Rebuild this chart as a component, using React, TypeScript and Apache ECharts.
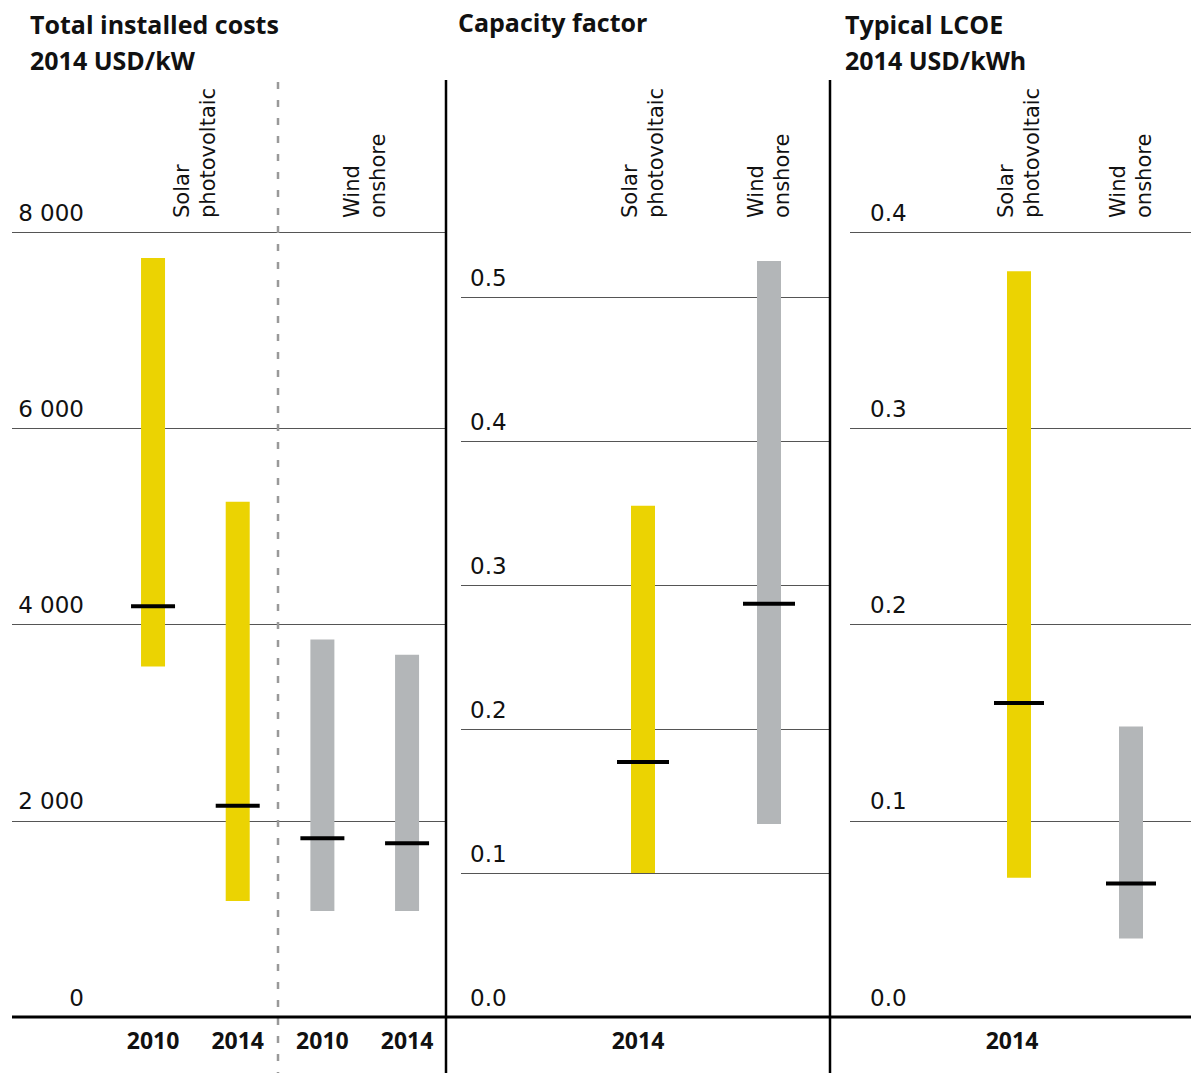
import React, { useEffect, useRef } from "react";
import * as echarts from "echarts";

// ---- Data ----
const costYears = ["2010", "2014", "2010", "2014"];
const costGroups = ["Solar\nphotovoltaic", "Wind\nonshore"];
const costTech = ["solar", "solar", "wind", "wind"];
const costLow = [3571, 1183, 1079, 1079];
const costHigh = [7735, 5250, 3846, 3692];
const costMedian = [4185, 2154, 1822, 1770];
const costTicks = { min: 0, max: 8000, interval: 2000 };

const techLabels = ["Solar\nphotovoltaic", "Wind\nonshore"];
const techKinds = ["solar", "wind"];

const cfLow = [0.1, 0.134];
const cfHigh = [0.355, 0.525];
const cfMedian = [0.177, 0.287];
const cfTicks = { min: 0, max: 0.5, interval: 0.1 };

const lcoeLow = [0.071, 0.04];
const lcoeHigh = [0.38, 0.148];
const lcoeMedian = [0.16, 0.068];
const lcoeTicks = { min: 0, max: 0.4, interval: 0.1 };

const yearLabel = ["2014"];

const COLORS: Record<string, string> = { solar: "#EBD302", wind: "#B3B6B8" };

const TICK_FONT = "DejaVu Sans";
const BOLD_FONT = "Open Sans";

function rows(low: number[], high: number[], med: number[]) {
  return low.map((l, i) => [i, l, high[i], med[i]]);
}

function rangeSeries(
  xIdx: number,
  yIdx: number,
  data: number[][],
  kinds: string[],
  medWidth: number
) {
  return {
    type: "custom",
    xAxisIndex: xIdx,
    yAxisIndex: yIdx,
    clip: false,
    z: 5,
    data,
    renderItem: (params: any, api: any) => {
      const i = api.value(0);
      const lo = api.coord([i, api.value(1)]);
      const hi = api.coord([i, api.value(2)]);
      const md = api.coord([i, api.value(3)]);
      const bw = 24;
      return {
        type: "group",
        children: [
          {
            type: "rect",
            shape: { x: lo[0] - bw / 2, y: hi[1], width: bw, height: lo[1] - hi[1] },
            style: { fill: COLORS[kinds[params.dataIndex]] },
          },
          {
            type: "rect",
            shape: { x: md[0] - medWidth / 2, y: md[1] - 2, width: medWidth, height: 4 },
            style: { fill: "#000" },
          },
        ],
      };
    },
  };
}

const tickLabelStyle = {
  fontFamily: TICK_FONT,
  fontSize: 23,
  color: "#111",
  verticalAlign: "bottom",
  padding: [0, 0, 8, 0],
};

const topLabelStyle = {
  rotate: 90,
  fontFamily: TICK_FONT,
  fontSize: 21,
  lineHeight: 26,
  color: "#111",
  interval: 0,
};

const yearLabelStyle = {
  fontFamily: BOLD_FONT,
  fontWeight: "bold",
  fontSize: 23,
  color: "#111",
  margin: 11,
  interval: 0,
};

export default function App() {
  const ref = useRef<HTMLDivElement>(null);

  useEffect(() => {
    document.body.style.margin = "0";
    if (!ref.current) return;
    const chart = echarts.init(ref.current, undefined, { renderer: "svg" });

    const titleStyle = {
      fontFamily: BOLD_FONT,
      fontWeight: "bold",
      fontSize: 25,
      lineHeight: 36,
      color: "#111",
    };

    const gridBase = { outerBoundsMode: "none", containLabel: false };
    const hiddenLine = { axisLine: { show: false }, axisTick: { show: false } };

    const option: any = {
      animation: false,
      backgroundColor: "#fff",
      title: [
        { text: "Total installed costs\n2014 USD/kW", left: 30, top: 6, padding: 0, textStyle: titleStyle },
        { text: "Capacity factor", left: 458, top: 4, padding: 0, textStyle: titleStyle },
        { text: "Typical LCOE\n2014 USD/kWh", left: 845, top: 6, padding: 0, textStyle: titleStyle },
      ],
      grid: [
        { ...gridBase, left: 12, width: 434, top: 232, height: 785 }, // 0 cost gridlines
        { ...gridBase, left: 110.7, width: 338.7, top: 232, height: 785 }, // 1 cost bars
        { ...gridBase, left: 461, width: 369, top: 297, height: 720 }, // 2 cf gridlines
        { ...gridBase, left: 580, width: 252, top: 297, height: 720 }, // 3 cf bars
        { ...gridBase, left: 850, width: 341, top: 232, height: 785 }, // 4 lcoe gridlines
        { ...gridBase, left: 963, width: 224, top: 232, height: 785 }, // 5 lcoe bars
        { ...gridBase, left: 110.7, width: 338.7, top: 232, height: 785 }, // 6 cost group labels
      ],
      xAxis: [
        { gridIndex: 0, type: "category", data: [""], show: false },
        {
          gridIndex: 1,
          type: "category",
          data: costYears,
          position: "bottom",
          ...hiddenLine,
          axisLabel: yearLabelStyle,
        },
        {
          gridIndex: 6,
          type: "category",
          data: costGroups,
          position: "top",
          ...hiddenLine,
          axisLabel: { ...topLabelStyle, margin: 14 },
        },
        {
          gridIndex: 2,
          type: "category",
          data: yearLabel,
          ...hiddenLine,
          axisLabel: { ...yearLabelStyle, padding: [0, 15, 0, 0] },
        },
        {
          gridIndex: 3,
          type: "category",
          data: techLabels,
          position: "top",
          ...hiddenLine,
          axisLabel: { ...topLabelStyle, margin: 79 },
        },
        {
          gridIndex: 4,
          type: "category",
          data: yearLabel,
          ...hiddenLine,
          axisLabel: { ...yearLabelStyle, padding: [0, 17, 0, 0] },
        },
        {
          gridIndex: 5,
          type: "category",
          data: techLabels,
          position: "top",
          ...hiddenLine,
          axisLabel: { ...topLabelStyle, margin: 14 },
        },
      ],
      yAxis: [
        {
          gridIndex: 0,
          type: "value",
          ...costTicks,
          ...hiddenLine,
          splitLine: { show: true, lineStyle: { color: "#555", width: 1 } },
          axisLabel: {
            ...tickLabelStyle,
            inside: true,
            align: "right",
            margin: 72,
            formatter: (v: number) => (v === 0 ? "0" : `${v / 1000} 000`),
          },
        },
        { gridIndex: 1, type: "value", ...costTicks, show: false, splitLine: { show: false } },
        {
          gridIndex: 2,
          type: "value",
          ...cfTicks,
          ...hiddenLine,
          splitLine: { show: true, lineStyle: { color: "#555", width: 1 } },
          axisLabel: {
            ...tickLabelStyle,
            inside: true,
            align: "left",
            margin: 9,
            formatter: (v: number) => v.toFixed(1),
          },
        },
        { gridIndex: 3, type: "value", ...cfTicks, show: false, splitLine: { show: false } },
        {
          gridIndex: 4,
          type: "value",
          ...lcoeTicks,
          ...hiddenLine,
          splitLine: { show: true, lineStyle: { color: "#555", width: 1 } },
          axisLabel: {
            ...tickLabelStyle,
            inside: true,
            align: "left",
            margin: 20,
            formatter: (v: number) => v.toFixed(1),
          },
        },
        { gridIndex: 5, type: "value", ...lcoeTicks, show: false, splitLine: { show: false } },
        { gridIndex: 6, type: "value", ...costTicks, show: false, splitLine: { show: false } },
      ],
      series: [
        rangeSeries(1, 1, rows(costLow, costHigh, costMedian), costTech, 44),
        rangeSeries(4, 3, rows(cfLow, cfHigh, cfMedian), techKinds, 52),
        rangeSeries(6, 5, rows(lcoeLow, lcoeHigh, lcoeMedian), techKinds, 50),
      ],
      graphic: [
        {
          type: "line",
          shape: { x1: 278, y1: 82, x2: 278, y2: 1073 },
          style: { stroke: "#999", lineWidth: 2.5, lineDash: [7, 11] },
          z: 1,
        },
        {
          type: "line",
          shape: { x1: 446, y1: 80, x2: 446, y2: 1073 },
          style: { stroke: "#000", lineWidth: 2.5 },
          z: 10,
        },
        {
          type: "line",
          shape: { x1: 830, y1: 80, x2: 830, y2: 1073 },
          style: { stroke: "#000", lineWidth: 2.5 },
          z: 10,
        },
        {
          type: "line",
          shape: { x1: 12, y1: 1017, x2: 1191, y2: 1017 },
          style: { stroke: "#000", lineWidth: 3 },
          z: 10,
        },
      ],
    };

    chart.setOption(option);
    return () => chart.dispose();
  }, []);

  return <div ref={ref} style={{ width: 1191, height: 1073 }} />;
}
